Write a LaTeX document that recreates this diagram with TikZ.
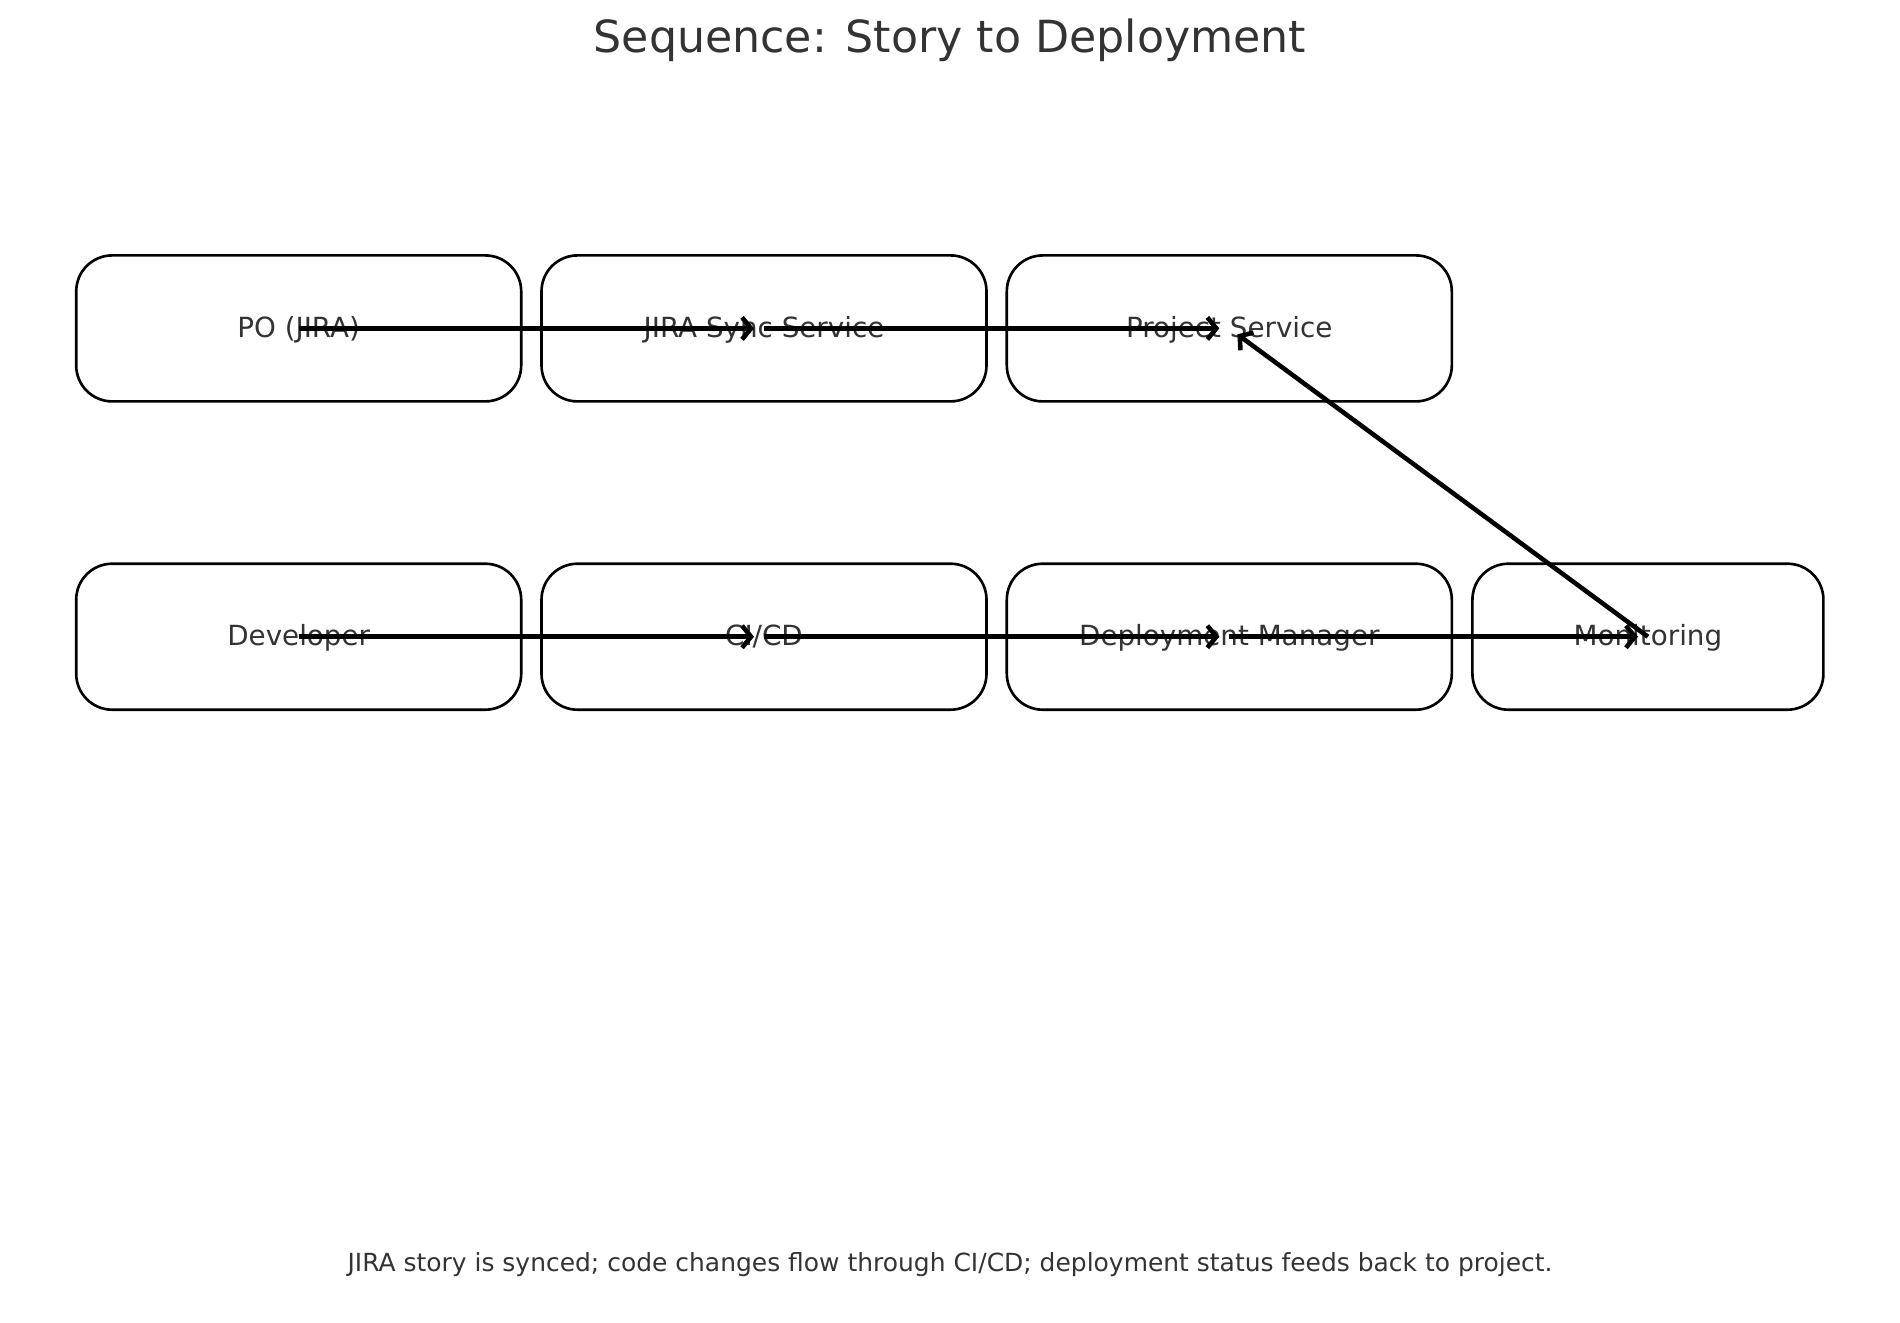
\documentclass[tikz,border=0pt]{standalone}
\usepackage{fontspec}
\setmainfont{DejaVu Sans}
\usepackage{tikz}
\usetikzlibrary{arrows.meta}
\usetikzlibrary{positioning}
\definecolor{txt}{HTML}{333333}
\tikzset{box/.style = {draw, line width = 0.75pt, rounded corners = 0.36cm,
                       minimum width = 4.45cm, minimum height = 1.46cm,
                       text = txt, inner sep = 0, text depth = 0.03cm,
                       font = \fontsize{7.9}{9.5}\selectfont}}
\tikzset{arr/.style = {line width = 1.3pt, shorten > = 0.1cm,
                       -{Straight Barb[length=0.9mm, width=2.2mm, line width=1.3pt]}}}

\begin{document}
\begin{tikzpicture}
      \useasboundingbox (0, 0) rectangle (19, -13.22);

      \node at (9.5, -0.4) [text = txt, font = \fontsize{12.6}{15}\selectfont] (title) {Sequence: Story to Deployment};

      \node at (2.987, -3.284) [box] (po) {PO (JIRA)};
      \node at (7.640, -3.284) [box] (sync) {JIRA Sync Service};
      \node at (12.293, -3.284) [box] (proj) {Project Service};

      \node at (2.987, -6.367) [box] (dev) {Developer};
      \node at (7.640, -6.367) [box] (cicd) {CI/CD};
      \node at (12.293, -6.367) [box] (deploy) {Deployment Manager};
      \node at (16.479, -6.367) [box, minimum width = 3.51cm] (mon) {Monitoring};

      \draw [arr] (po.center) -- (sync.center);
      \draw [arr] (sync.center) -- (proj.center);
      \draw [arr] (dev.center) -- (cicd.center);
      \draw [arr] (cicd.center) -- (deploy.center);
      \draw [arr] (deploy.center) -- (mon.center);
      \draw [arr] (mon.center) -- (proj.center);

      \node at (9.5, -12.65) [text = txt, font = \fontsize{7.1}{9}\selectfont] (note) {JIRA story is synced; code changes flow through CI/CD; deployment status feeds back to project.};
    \end{tikzpicture}
\end{document}
